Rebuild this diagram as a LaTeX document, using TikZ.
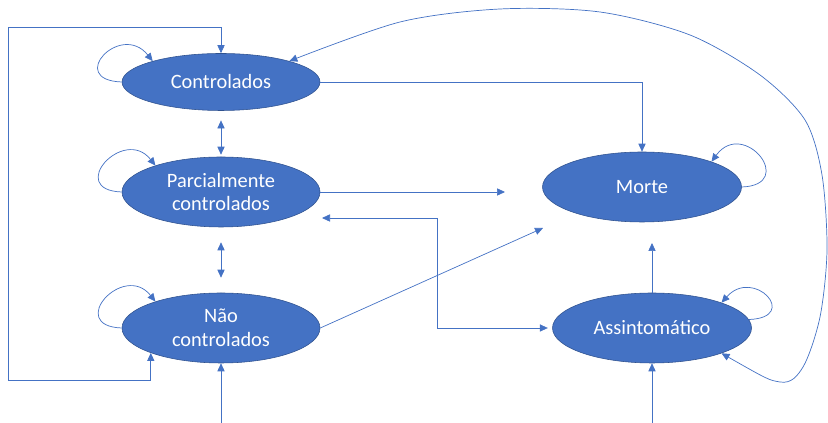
\documentclass[tikz,border=0pt]{standalone}
\usepackage{fontspec}
\setmainfont{Carlito}
\usetikzlibrary{arrows.meta,shapes.geometric}
\definecolor{stateblue}{HTML}{4472C4}
\definecolor{stateedge}{HTML}{2F528F}

\begin{document}
\begin{tikzpicture}[
  >={Triangle[length=0.2cm,width=0.18cm]},
  state/.style={ellipse,fill=stateblue,draw=stateedge,line width=0.4pt,
    text=white,inner sep=0pt,minimum width=4.95cm,minimum height=1.75cm,
    align=center,font=\fontsize{14.5}{17}\selectfont},
  link/.style={draw=stateblue,line width=0.5pt}
]
\useasboundingbox (0,0) rectangle (20.7,10.575);

\node[state,minimum height=1.425cm] (contr) at (5.525,8.525) {Controlados};
\node[state] (parc) at (5.525,5.775) {Parcialmente\\controlados};
\node[state] (naoc) at (5.525,2.375) {Não\\controlados};
\node[state,minimum width=4.975cm] (morte) at (16.05,5.9) {Morte};
\node[state,minimum width=4.975cm] (assin) at (16.3,2.375) {Assintomático};

\coordinate (lb) at (0.2,1.075);
\coordinate (lt) at (0.2,9.9);
\coordinate (pm) at (12.625,5.775);
\coordinate (nm) at (13.575,4.875);
\coordinate (pa) at (8.05,5.125);
\coordinate (bend) at (10.925,2.375);
\coordinate (am) at (16.3,4.5);
\coordinate (nin) at (5.525,0);
\coordinate (ain) at (16.3,0);

\draw[link,->] (contr.west) .. controls +(-1.4,0.05) and +(-0.8,1.0) .. (contr.163);
\draw[link,->] (parc.west) .. controls +(-1.4,0.05) and +(-0.8,1.0) .. (parc.158);
\draw[link,->] (naoc.west) .. controls +(-1.4,0.05) and +(-0.8,1.0) .. (naoc.158);
\draw[link,->] (morte.east) .. controls +(1.4,0.05) and +(0.8,1.1) .. (morte.20);
\draw[link,->] (assin.5) .. controls +(1.3,0.05) and +(0.8,0.9) .. (assin.20);

\draw[link,<->,shorten <=0.24cm,shorten >=0.05cm] (contr.south) -- (parc.north);
\draw[link,<->,shorten <=0.375cm,shorten >=0.375cm] (parc.south) -- (naoc.north);
\draw[link,<->] (naoc.south west) |- (lb) -- (lt) -| (contr.north);
\draw[link,->] (contr.east) -| (morte.north);
\draw[link,->] (parc.east) -- (pm);
\draw[link,->] (naoc.east) -- (nm);
\draw[link,<->,shorten >=0.11cm] (pa) -| (bend) -- (assin.west);
\draw[link,->] (assin.north) -- (am);
\draw[link,->] (nin) -- (naoc.south);
\draw[link,->] (ain) -- (assin.south);

\draw[link,<->] plot[smooth,tension=0.5] coordinates {
(assin.340)
(19.5,1.025)
(20.075,1.4)
(20.5,2.65)
(20.675,4.325)
(20.55,6.2)
(20.125,7.575)
(19.0,8.7)
(17.25,9.7)
(15.0,10.275)
(12.5,10.35)
(10.0,10.025)
(contr.17)
};
\end{tikzpicture}
\end{document}
